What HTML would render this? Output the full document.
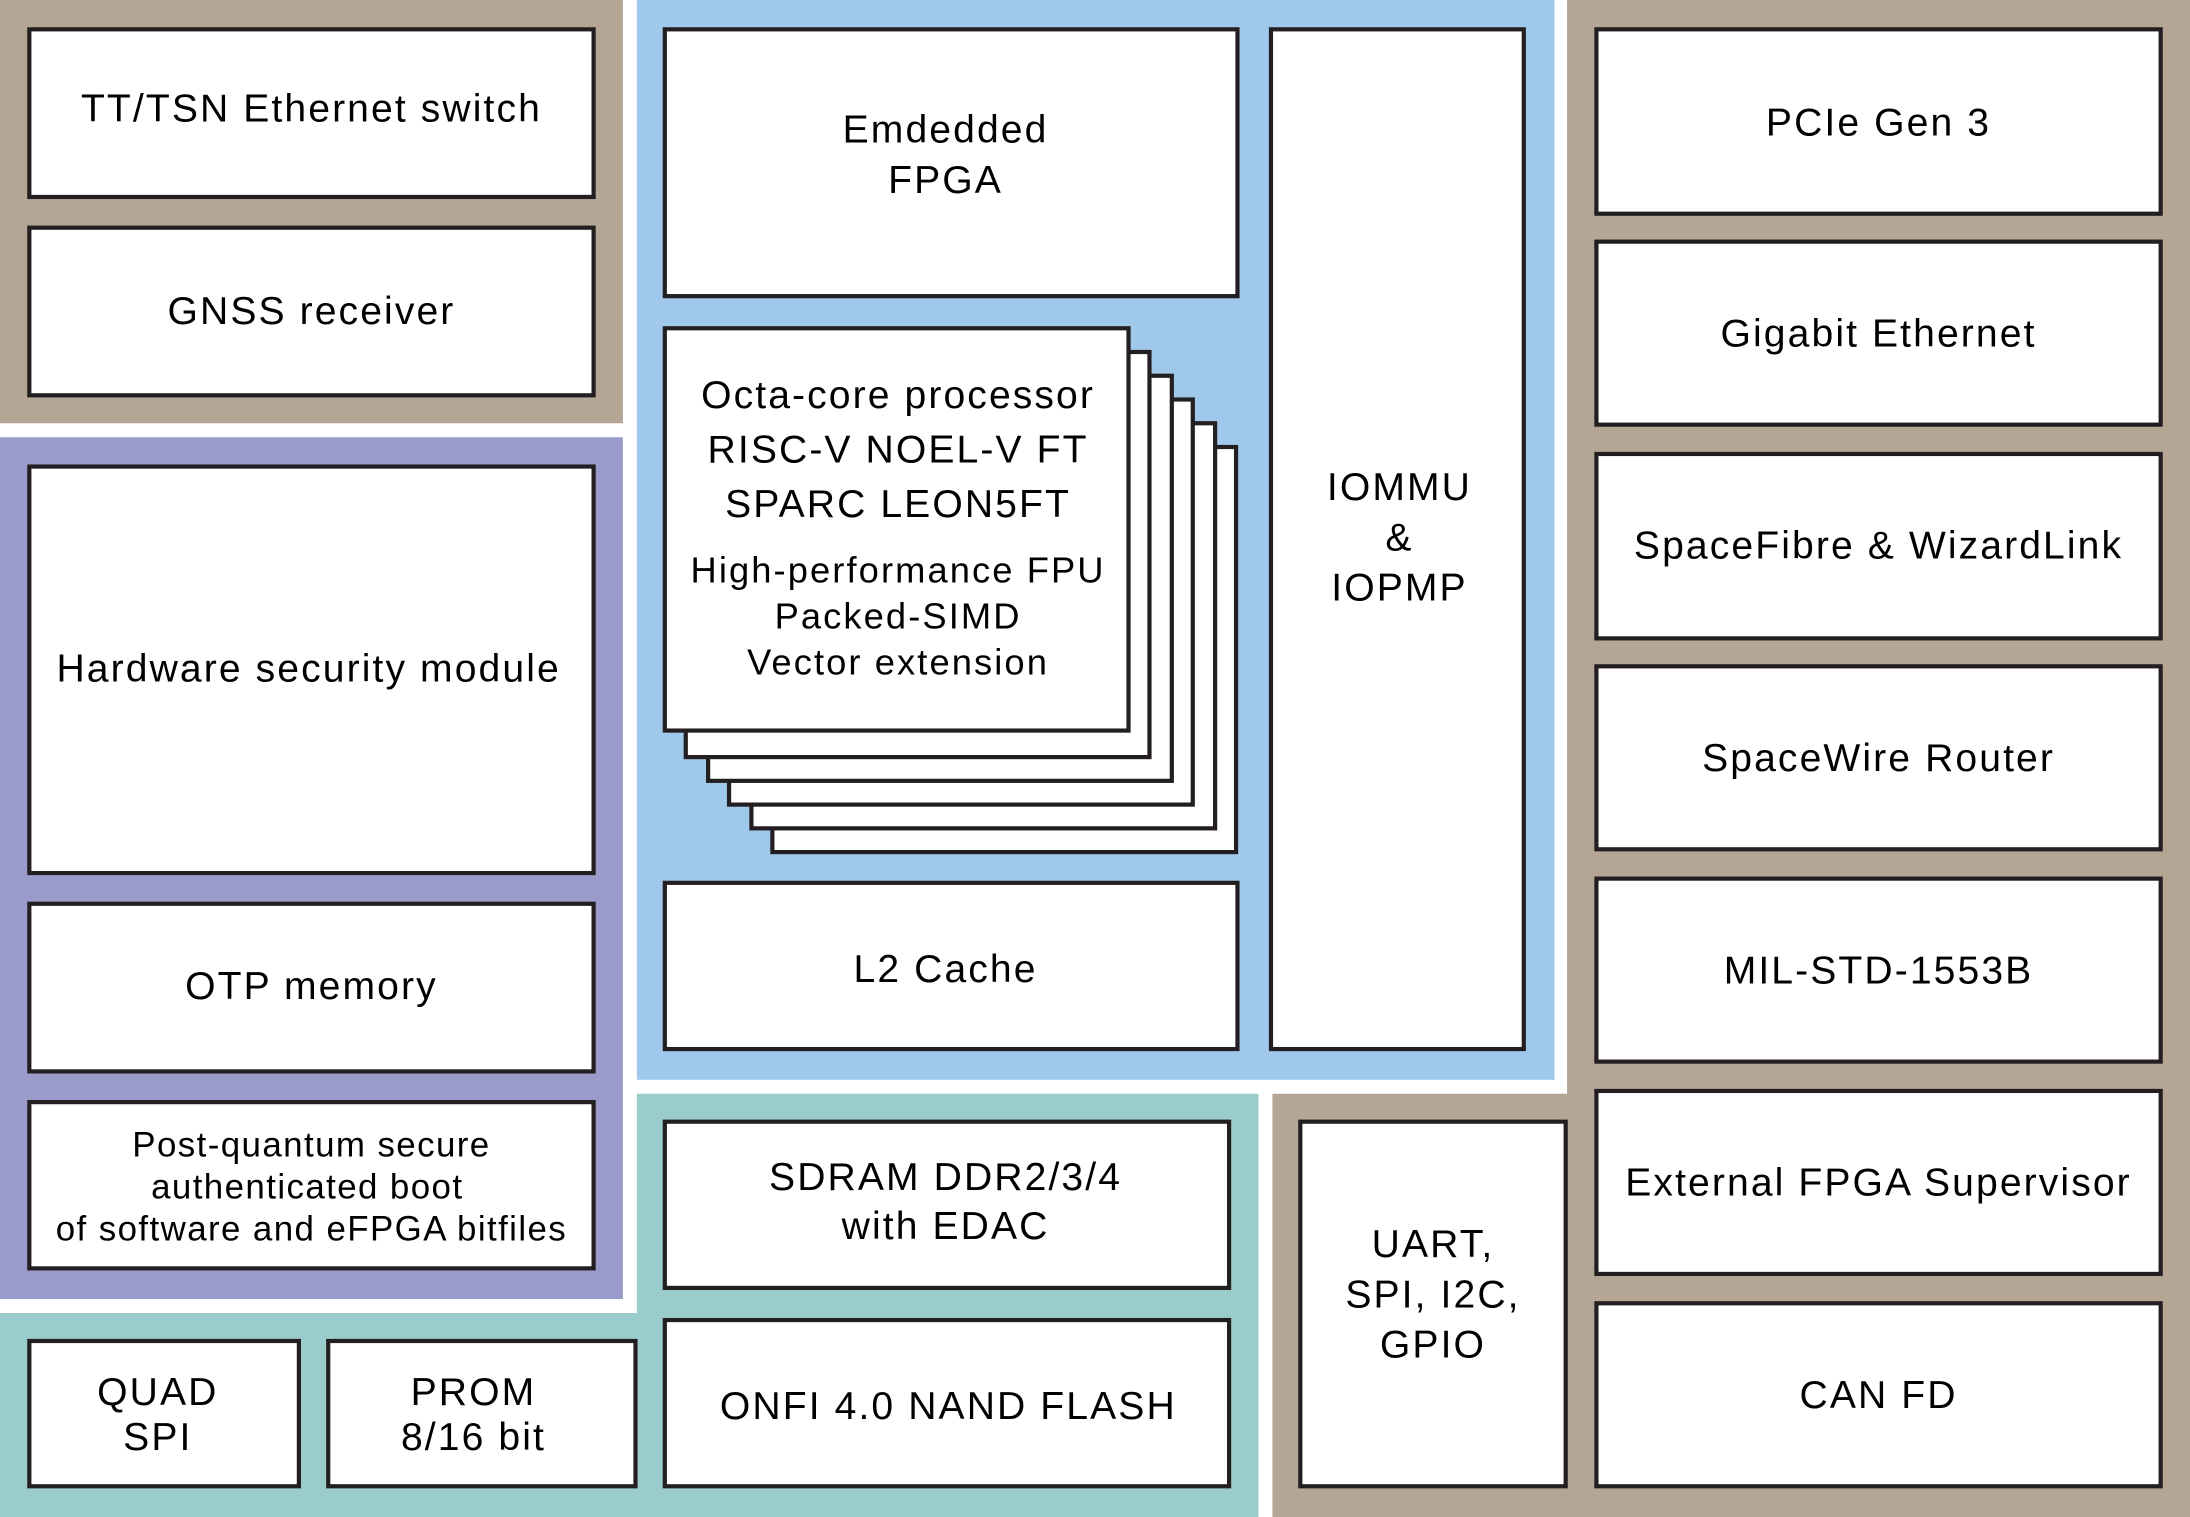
<!DOCTYPE html>
<html><head><meta charset="utf-8"><style>html,body{margin:0;padding:0;background:#fff}svg{display:block}</style></head><body>
<svg width="2190" height="1517" viewBox="0 0 1568 1086" preserveAspectRatio="none" xmlns="http://www.w3.org/2000/svg" font-family="'Liberation Sans', Arial, sans-serif" fill="#000">
<rect x="0" y="0" width="1568" height="1086" fill="#fff"/>
<rect x="0" y="0" width="446" height="303" fill="#b5a595"/>
<rect x="0" y="313" width="446" height="617" fill="#9b9bcb"/>
<rect x="456" y="0" width="657" height="773" fill="#9fc8eb"/>
<path d="M1122 0H1568V1086H911V783H1122Z" fill="#b5a595"/>
<path d="M456 783H901V1086H0V940H456Z" fill="#9acccb"/>
<g fill="#fff" stroke="#231f20" stroke-width="3">
<rect x="21" y="21" width="404" height="120"/>
<rect x="21" y="163" width="404" height="120"/>
<rect x="21" y="334" width="404" height="291"/>
<rect x="21" y="647" width="404" height="120"/>
<rect x="21" y="789" width="404" height="119"/>
<rect x="21" y="960" width="193" height="104"/>
<rect x="235" y="960" width="220" height="104"/>
<rect x="476" y="21" width="410" height="191"/>
<rect x="553" y="320" width="332" height="290"/>
<rect x="538" y="303" width="332" height="290"/>
<rect x="522" y="286" width="332" height="290"/>
<rect x="507" y="269" width="332" height="290"/>
<rect x="491" y="252" width="332" height="290"/>
<rect x="476" y="235" width="332" height="288"/>
<rect x="476" y="632" width="410" height="119"/>
<rect x="910" y="21" width="181" height="730"/>
<rect x="476" y="803" width="404" height="119"/>
<rect x="476" y="945" width="404" height="119"/>
<rect x="931" y="803" width="190" height="261"/>
<rect x="1143" y="21" width="404" height="132"/>
<rect x="1143" y="173" width="404" height="131"/>
<rect x="1143" y="325" width="404" height="132"/>
<rect x="1143" y="477" width="404" height="131"/>
<rect x="1143" y="629" width="404" height="131"/>
<rect x="1143" y="781" width="404" height="131"/>
<rect x="1143" y="933" width="404" height="131"/>
</g>
<g font-size="28" text-anchor="middle" letter-spacing="1.5">
<text x="223" y="87">TT/TSN Ethernet switch</text>
<text x="223" y="232">GNSS receiver</text>
<text x="221" y="488">Hardware security module</text>
<text x="223" y="715">OTP memory</text>
<text x="223" y="828" font-size="25" letter-spacing="1">Post-quantum secure</text>
<text x="220" y="858" font-size="25" letter-spacing="1">authenticated boot</text>
<text x="223" y="888" font-size="25" letter-spacing="1">of software and eFPGA bitfiles</text>
<text x="113" y="1006">QUAD</text>
<text x="113" y="1038">SPI</text>
<text x="339" y="1006">PROM</text>
<text x="339" y="1038">8/16 bit</text>
<text x="677" y="102">Emdedded</text>
<text x="677" y="138">FPGA</text>
<text x="643" y="292">Octa-core processor</text>
<text x="643" y="331">RISC-V NOEL-V FT</text>
<text x="643" y="370">SPARC LEON5FT</text>
<text x="643" y="417" font-size="26" letter-spacing="1.5">High-performance FPU</text>
<text x="643" y="450" font-size="26" letter-spacing="1.5">Packed-SIMD</text>
<text x="643" y="483" font-size="26" letter-spacing="1.5">Vector extension</text>
<text x="677" y="703">L2 Cache</text>
<text x="1002" y="358">IOMMU</text>
<text x="1002" y="394">&amp;</text>
<text x="1002" y="430">IOPMP</text>
<text x="677" y="852">SDRAM DDR2/3/4</text>
<text x="677" y="887">with EDAC</text>
<text x="679" y="1016">ONFI 4.0 NAND FLASH</text>
<text x="1026" y="900">UART,</text>
<text x="1026" y="936">SPI, I2C,</text>
<text x="1026" y="972">GPIO</text>
<text x="1345" y="97">PCIe Gen 3</text>
<text x="1345" y="248">Gigabit Ethernet</text>
<text x="1345" y="400">SpaceFibre &amp; WizardLink</text>
<text x="1345" y="552">SpaceWire Router</text>
<text x="1345" y="704">MIL-STD-1553B</text>
<text x="1345" y="856">External FPGA Supervisor</text>
<text x="1345" y="1008">CAN FD</text>
</g>
</svg>
</body></html>
